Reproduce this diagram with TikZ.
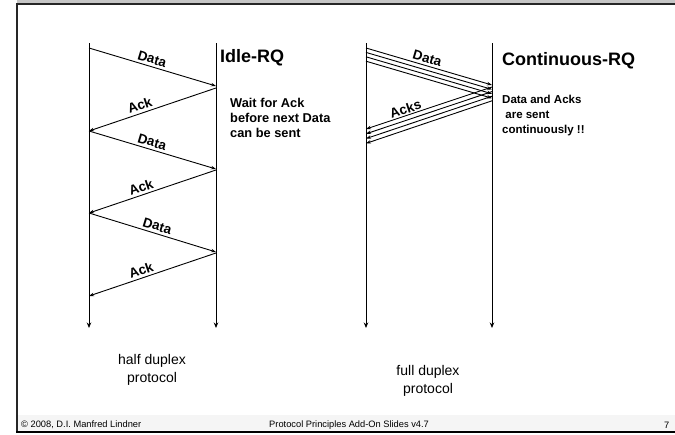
\documentclass[tikz,border=0pt]{standalone}
\usepackage{fontspec}
\setmainfont{Liberation Sans}
\usetikzlibrary{arrows.meta}
\begin{document}
\begin{tikzpicture}[x=1pt,y=-1pt,
  timeline/.style={line width=0.9pt,-{Stealth[length=5.5pt,width=4.5pt]}},
  msg/.style={line width=0.9pt,-{Stealth[length=5pt,width=3.5pt]}},
  rmsg/.style={line width=0.9pt,{Stealth[length=5pt,width=3.5pt]}-},
  lbl/.style={font=\fontsize{13.5}{13.5}\selectfont\bfseries,sloped,above,inner sep=2.5pt},
  title/.style={font=\fontsize{18}{18}\selectfont\bfseries,anchor=base west,inner sep=0pt},
  note/.style={font=\fontsize{12.8}{15}\selectfont\bfseries,align=left,anchor=north west,inner sep=0pt},
  caption/.style={font=\fontsize{14}{18}\selectfont,align=center,anchor=north,inner sep=0pt},
  foot/.style={font=\fontsize{9.3}{9.3}\selectfont,anchor=base west,inner sep=0pt}]
\useasboundingbox (0,0) rectangle (675,434);

% slide frame
\fill[gray!8] (17,415) rectangle (675,432);
\fill[gray!45] (17,0) rectangle (675,3);
\draw[line width=1.6pt,black!85] (17,4) -- (675,4);
\draw[line width=1.6pt,black!85] (17,3.2) -- (17,432.8);
\draw[line width=1.6pt,black] (16.2,432) -- (675,432);

% ---------- Idle-RQ (half duplex) ----------
\coordinate (A0) at (89,43);  \coordinate (A1) at (89,328);
\coordinate (B0) at (216,43); \coordinate (B1) at (216,328);
\draw[timeline] (A0) -- (A1);
\draw[timeline] (B0) -- (B1);

\coordinate (a1) at (89,48);  \coordinate (b1) at (216,86);
\coordinate (b2) at (216,88); \coordinate (a2) at (89,131);
\coordinate (a3) at (89,131); \coordinate (b3) at (216,169);
\coordinate (b4) at (216,170);\coordinate (a4) at (89,213);
\coordinate (a5) at (89,213); \coordinate (b5) at (216,252);
\coordinate (b6) at (216,253);\coordinate (a6) at (89,296);

\draw[msg]  (a1) -- node[lbl,pos=0.48] {Data} (b1);
\draw[rmsg] (a2) -- node[lbl,pos=0.42] {Ack}  (b2);
\draw[msg]  (a3) -- node[lbl,pos=0.48] {Data} (b3);
\draw[rmsg] (a4) -- node[lbl,pos=0.43] {Ack}  (b4);
\draw[msg]  (a5) -- node[lbl,pos=0.52] {Data} (b5);
\draw[rmsg] (a6) -- node[lbl,pos=0.43] {Ack}  (b6);

\node[title] (idle) at (220,62) {Idle-RQ};
\node[note] (wait) at (230,98.5) {Wait for Ack\\before next Data\\can be sent};
\node[caption] (half) at (152,354) {half duplex\\protocol};

% ---------- Continuous-RQ (full duplex) ----------
\coordinate (C0) at (366,43); \coordinate (C1) at (366,328);
\coordinate (D0) at (492,43); \coordinate (D1) at (492,328);
\draw[timeline] (C0) -- (C1);
\draw[timeline] (D0) -- (D1);

\foreach \i in {0,1,2,3}{
  \coordinate (c\i) at (366,{48+4.4*\i});
  \coordinate (d\i) at (492,{85+4.4*\i});
  \draw[msg] (c\i) -- (d\i);
  \coordinate (e\i) at (492,{87+4.6*\i});
  \coordinate (f\i) at (366,{129+4.8*\i});
  \draw[rmsg] (f\i) -- (e\i);
}
\path (c0) -- node[lbl,pos=0.47] {Data} (d0);
\path (f0) -- node[lbl,pos=0.33,inner sep=1.5pt] {Acks} (e0);

\node[title] (cont) at (502,65) {Continuous-RQ};
\node[note,font=\fontsize{11.5}{15}\selectfont\bfseries] (sent) at (502,95) {Data and Acks\\\ are sent\\continuously !!};
\node[caption] (full) at (428,365) {full duplex\\protocol};

% footer
\node[foot] (copy) at (21,427) {\textcopyright{} 2008, D.I. Manfred Lindner};
\node[foot] (slides) at (269,427) {Protocol Principles Add-On Slides v4.7};
\node[foot] (page) at (664,428) {7};
\end{tikzpicture}
\end{document}
